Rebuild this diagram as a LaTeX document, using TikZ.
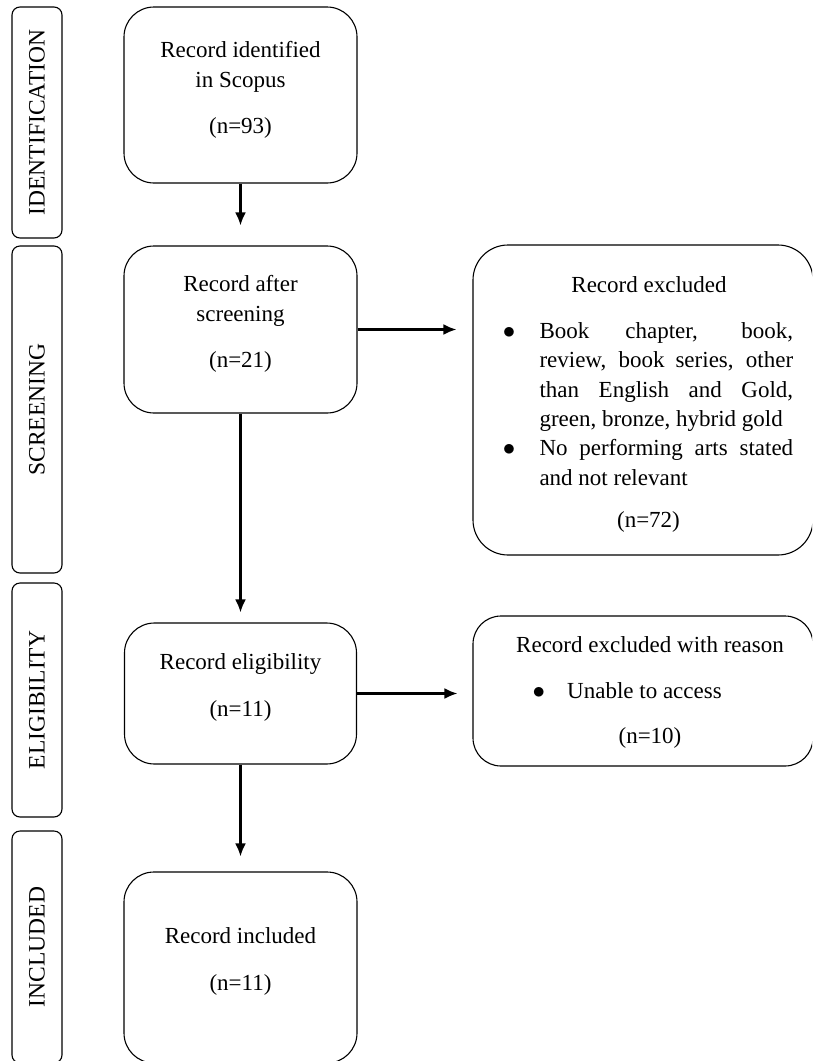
\documentclass[tikz,border=0pt]{standalone}
\usepackage{fontspec}
\setmainfont{Liberation Serif}
\usetikzlibrary{arrows.meta}

\begin{document}
\begin{tikzpicture}[x=1pt,y=-1pt,
box/.style={draw,line width=1.1pt,rounded corners=30pt,inner sep=0pt},
stage/.style={draw,line width=1.1pt,rounded corners=8pt,rotate=90,minimum height=50pt,inner sep=0pt,font=\fontsize{23.5}{29}\selectfont},
txt/.style={inner sep=0pt,align=center,font=\fontsize{23}{29.3}\selectfont},
arr/.style={line width=2.2pt,-{Latex[length=13pt,width=11pt]}}]

\useasboundingbox (0,0) rectangle (812,1061);
\clip (0,0) rectangle (812,1061);

\node[stage,minimum width=231pt] (sident) at (37,122.5) {IDENTIFICATION};
\node[stage,minimum width=327pt] (sscreen) at (37,409.5) {SCREENING};
\node[stage,minimum width=234pt] (selig) at (37,700) {ELIGIBILITY};
\node[stage,minimum width=232pt] (sincl) at (37,947) {INCLUDED};

\node[box,minimum width=233pt,minimum height=176pt] (ident) at (240.5,95) {};
\node[box,minimum width=233pt,minimum height=167pt] (screen) at (240.5,329.5) {};
\node[box,minimum width=232pt,minimum height=141pt] (elig) at (240.5,693.5) {};
\node[box,minimum width=233pt,minimum height=191pt] (incl) at (240.5,967.5) {};
\node[box,rounded corners=35pt,minimum width=340pt,minimum height=310pt] (excl) at (643,400) {};
\node[box,rounded corners=28pt,minimum width=340pt,minimum height=150pt] (reason) at (643,691) {};

\node[txt] (identtxt) at (240.5,90.1) {Record identified\\in Scopus\\[17pt](n=93)};
\node[txt] (screentxt) at (240.5,324.1) {Record after\\screening\\[17pt](n=21)};
\node[txt] (eligtxt) at (240.5,687.6) {Record eligibility\\[17pt](n=11)};
\node[txt] (incltxt) at (240.5,961.6) {Record included\\[17pt](n=11)};

\node[txt,anchor=base] (excltitle) at (649,292) {Record excluded};
\node[txt,align=justify,text width=290.3pt,anchor=north west] (excllist) at (502.7,322.5) {\parindent=0pt\tolerance=10000
\hangindent=36.6pt\makebox[36.6pt][l]{$\bullet$}Book chapter, book,\linebreak review, book series, other\linebreak than English and Gold,\linebreak green, bronze, hybrid gold\par
\hangindent=36.6pt\makebox[36.6pt][l]{$\bullet$}No performing arts stated\linebreak and not relevant\par};
\node[txt,anchor=base] (excln) at (648.5,527) {(n=72)};

\node[txt,anchor=base] (reasontitle) at (650,652) {Record excluded with reason};
\node[txt,anchor=base west] (reasonitem) at (532.3,698) {\makebox[34.7pt][l]{$\bullet$}Unable to access};
\node[txt,anchor=base] (reasonn) at (650,743) {(n=10)};

\draw[arr,shorten >=20pt] (ident) -- (screen);
\draw[arr,shorten >=10pt] (screen) -- (elig);
\draw[arr,shorten >=15pt] (elig) -- (incl);
\draw[arr,shorten >=16pt] (screen.east) -- (screen.east -| excl.west);
\draw[arr,shorten >=15pt] (elig.east) -- (elig.east -| reason.west);
\end{tikzpicture}
\end{document}
